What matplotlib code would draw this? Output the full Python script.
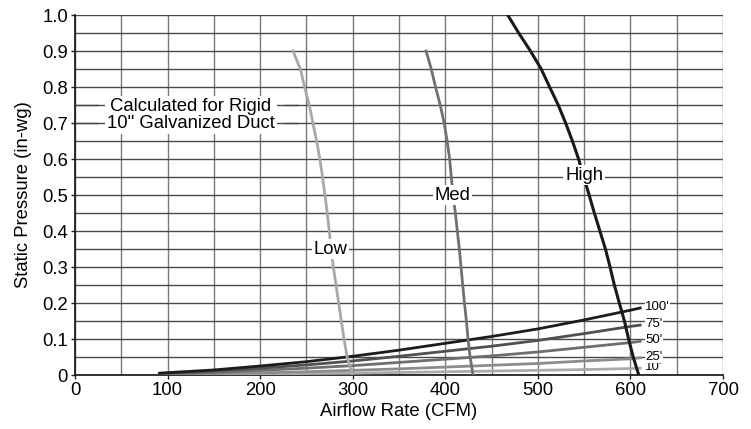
import numpy as np
import matplotlib
matplotlib.use("Agg")
import matplotlib.pyplot as plt

plt.rcParams['font.family'] = ['Liberation Sans', 'DejaVu Sans']

# fan curves (CFM, in-wg)
fan_p = [0.90, 0.85, 0.80, 0.75, 0.70, 0.65, 0.60, 0.55, 0.50, 0.45,
         0.40, 0.35, 0.30, 0.25, 0.20, 0.15, 0.10, 0.05, 0.00]
low_q = [235.5, 243.5, 248, 253, 257, 261, 264.5, 267.4, 270, 272.5,
         274.6, 276.8, 279, 282, 284.8, 287.7, 290.6, 294, 300]
med_q = [379.3, 384.8, 389.5, 394.5, 398.8, 402, 404.7, 406.5, 408.3, 410.9,
         413, 415.2, 417, 418.8, 420.7, 422.8, 424.6, 426.8, 430]
high_p = [1.00, 0.95] + fan_p
high_q = [467.4, 479.3, 492, 503.6, 512.7, 522, 530, 537.3, 544, 549.5, 555.4, 561,
          567, 573, 578, 582.6, 588, 593.5, 598, 603, 609]

# duct system curves
duct_q = [90, 150, 200, 250, 300, 350, 400, 450, 500, 550, 600, 612]
duct_100 = [0.005, 0.014, 0.025, 0.037, 0.052, 0.069, 0.088, 0.107, 0.128, 0.153, 0.180, 0.187]
duct_75 = [0.004, 0.011, 0.019, 0.028, 0.039, 0.052, 0.066, 0.080, 0.096, 0.115, 0.135, 0.139]
duct_50 = [0.003, 0.007, 0.013, 0.019, 0.026, 0.035, 0.044, 0.053, 0.064, 0.077, 0.090, 0.094]
duct_25 = [0.001, 0.004, 0.006, 0.009, 0.013, 0.017, 0.022, 0.027, 0.032, 0.039, 0.045, 0.048]
duct_10 = [0.0005, 0.002, 0.003, 0.004, 0.005, 0.007, 0.009, 0.011, 0.013, 0.015, 0.018, 0.019]
duct_labels = ["10'", "25'", "50'", "75'", "100'"]
duct_colors = ["#ababab", "#8c8c8c", "#6e6e6e", "#505050", "#1c1c1c"]

fig = plt.figure(figsize=(7.51, 4.29), dpi=100)
ax = fig.add_axes([75 / 751, 1 - 375 / 429, 648 / 751, 360 / 429])

ax.set_xlim(0, 700)
ax.set_ylim(0, 1.0)
ax.set_xticks(np.arange(0, 701, 100))
ax.set_yticks(np.arange(0, 1.01, 0.1))
ax.set_yticklabels(["0"] + ["%.1f" % v for v in np.arange(0.1, 1.01, 0.1)])
ax.set_xticks(np.arange(50, 700, 50), minor=True)
ax.set_yticks(np.arange(0.05, 1.0, 0.1), minor=True)
ax.grid(True, which="both", axis="x", color="#7a7a7a", lw=1.0)
ax.grid(True, which="both", axis="y", color="#4a4a4a", lw=1.0)
ax.tick_params(which="minor", length=0)
ax.tick_params(which="major", length=3, width=1, color="#222", labelsize=13.3, pad=2)
for s in ["top", "right"]:
    ax.spines[s].set_visible(False)
for s in ["left", "bottom"]:
    ax.spines[s].set_color("#111")
    ax.spines[s].set_linewidth(1.2)
ax.set_axisbelow(True)

ax.set_xlabel("Airflow Rate (CFM)", fontsize=13.3, labelpad=3)
ax.set_ylabel("Static Pressure (in-wg)", fontsize=13.3, labelpad=7)

duct_sets = [duct_10, duct_25, duct_50, duct_75, duct_100]
for vals, lab, col in zip(duct_sets, duct_labels, duct_colors):
    ax.plot(duct_q, vals, color=col, lw=2.0, solid_capstyle="butt", zorder=3)
    ax.text(duct_q[-1] + 4, vals[-1] + 0.003, lab, fontsize=9.5, va="center", ha="left",
            bbox=dict(facecolor="white", edgecolor="none", pad=0.1), zorder=4)

ax.plot(low_q, fan_p, color="#a8a8a8", lw=2.0, zorder=3)
ax.plot(med_q, fan_p, color="#707070", lw=2.0, zorder=3)
ax.plot(high_q, high_p, color="#1a1a1a", lw=2.2, zorder=3)

box = dict(facecolor="white", edgecolor="none", pad=1.2)
ax.text(276, 0.35, "Low", fontsize=13.3, ha="center", va="center", bbox=box, zorder=5)
ax.text(408, 0.50, "Med", fontsize=13.3, ha="center", va="center", bbox=box, zorder=5)
ax.text(550, 0.555, "High", fontsize=13.3, ha="center", va="center", bbox=box, zorder=5)
ax.text(125, 0.722, "Calculated for Rigid\n10\" Galvanized Duct", fontsize=13.3,
        ha="center", va="center", linespacing=1.05,
        bbox=dict(facecolor="white", edgecolor="none", pad=1.5), zorder=5)
# horizontal grid lines pass across the note on the left side
for yv in [0.70, 0.75]:
    ax.plot([0, 24], [yv, yv], color="#4a4a4a", lw=1.0, zorder=6)
    ax.plot([226, 240], [yv, yv], color="#4a4a4a", lw=1.0, zorder=6)

fig.savefig("out.png", dpi=100)
